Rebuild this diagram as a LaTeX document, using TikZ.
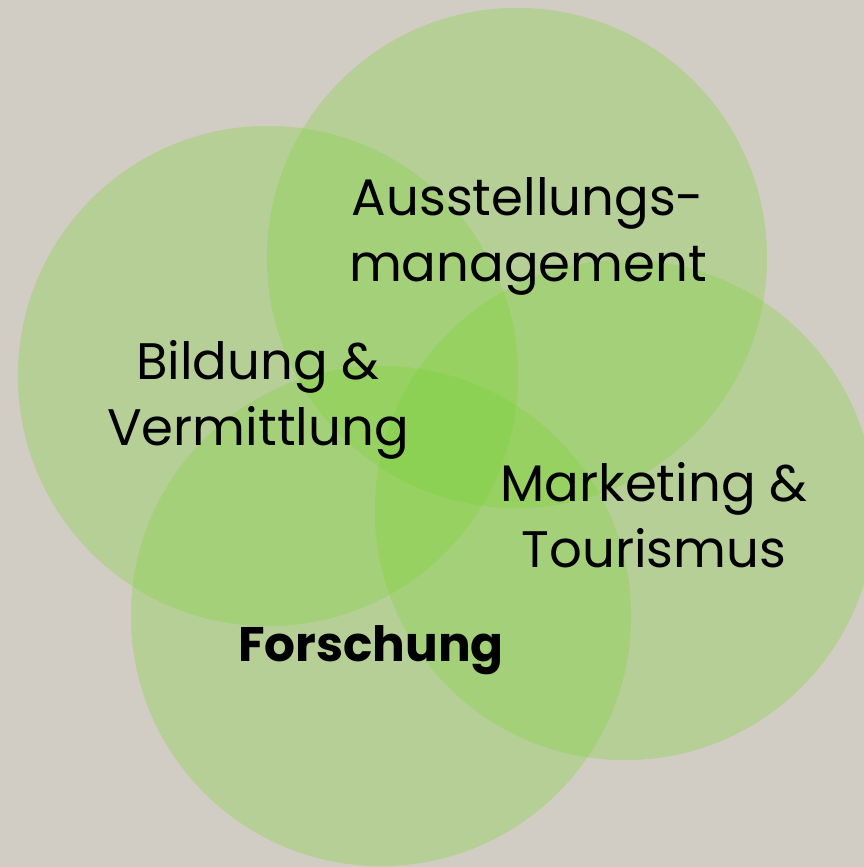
\documentclass[tikz,border=0pt]{standalone}
\usepackage{fontspec}
\setmainfont{Poppins}
\usepackage{tikz}
\usetikzlibrary{positioning}

\definecolor{paper}{RGB}{210,205,196}
\definecolor{leaf}{RGB}{120,212,50}

\tikzset{
    field/.style={circle, fill=leaf, fill opacity=0.3, draw=none,
        minimum size=5cm, inner sep=0pt},
    label/.style={align=center, inner sep=0pt, anchor=base,
        font=\fontsize{14.6}{18.6}\selectfont}
}

\begin{document}
\begin{tikzpicture}[x=0.01cm, y=-0.01cm]
        \useasboundingbox (0,0) rectangle (864,867);
        \fill[paper] (0,0) rectangle (864,867);

        \node[field] (ausst)  at (517,258) {};
        \node[field] (bild)   at (268,376) {};
        \node[field] (mark)   at (625,510) {};
        \node[field] (forsch) at (381,616) {};

        % base anchor sits on the last line
        \node[label] (ausstT) at (528,281)
        {Ausstellungs-\\management};
        \node[label] (bildT) at (258,445)
        {Bildung \&\\Vermittlung};
        \node[label] (markT) at (654,567)
        {Marketing \&\\Tourismus};
        \node[label, font=\fontsize{13.8}{16}\selectfont\bfseries]
        (forschT) at (371,661) {Forschung};
\end{tikzpicture}
\end{document}
